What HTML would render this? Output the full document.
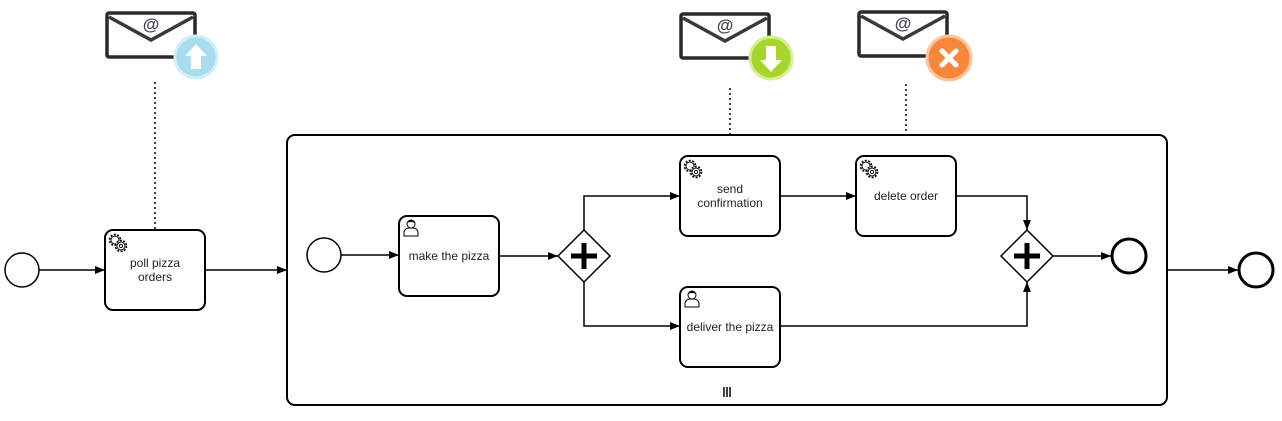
<!DOCTYPE html>
<html><head><meta charset="utf-8"><style>
html,body{margin:0;padding:0;background:#fff;}
svg{display:block;}
text{font-family:"Liberation Sans",Arial,sans-serif;font-size:12px;fill:#222;}
</style></head><body>
<svg width="1282" height="421" viewBox="0 0 1282 421" xmlns="http://www.w3.org/2000/svg">
<defs>
<marker id="a" viewBox="0 0 10 10" refX="10" refY="5" markerWidth="10" markerHeight="10" markerUnits="userSpaceOnUse" orient="auto">
<path d="M0,1 L10,5 L0,9 Z" fill="#000"/></marker>
<g id="gear">
<circle cx="7" cy="7" r="5.5" fill="none" stroke="#000" stroke-width="1.6" stroke-dasharray="2 1.5"/>
<circle cx="7" cy="7" r="4" fill="#fff" stroke="#000" stroke-width="0.9"/>
<circle cx="13" cy="13" r="5.5" fill="#fff" stroke="#000" stroke-width="1.6" stroke-dasharray="2 1.5"/>
<circle cx="13" cy="13" r="4" fill="#fff" stroke="#000" stroke-width="0.9"/>
<circle cx="13" cy="13" r="1.6" fill="none" stroke="#000" stroke-width="0.9"/>
</g>
<g id="user">
<circle cx="9" cy="6" r="4" fill="#fff" stroke="#000" stroke-width="1"/>
<path d="M5,5 Q9,0 13,5 Q9,3 5,5Z" fill="#000"/>
<path d="M2,18 L2,14 Q3,10 7,10 L11,10 Q15,10 16,14 L16,18 Z" fill="#fff" stroke="#000" stroke-width="1"/>
</g>
<g id="env">
<rect x="0" y="0" width="88" height="44" rx="2" fill="#fff" stroke="#2a2a2a" stroke-width="3.5"/>
<path d="M2,4 L44,27 L86,4" fill="none" stroke="#3a3a3a" stroke-width="3.5"/>
<text x="44" y="17" text-anchor="middle" style="font-size:17px;font-weight:bold;fill:#445">@</text>
</g>
</defs>

<use href="#env" x="107" y="13"/>
<circle cx="196" cy="57" r="21" fill="#a9dcef" stroke="#d2eef8" stroke-width="3"/>
<path d="M196,44 L207,56 L201,56 L201,69 L191,69 L191,56 L185,56 Z" fill="#fff"/>

<use href="#env" x="681" y="14"/>
<circle cx="771" cy="58" r="21" fill="#a6d52c" stroke="#d4ee92" stroke-width="3"/>
<path d="M771,72 L782,60 L776,60 L776,46 L766,46 L766,60 L760,60 Z" fill="#fff"/>

<use href="#env" x="859" y="12"/>
<circle cx="949" cy="58" r="22" fill="#f7873a" stroke="#fbc59c" stroke-width="3"/>
<path d="M942,51 L956,65 M956,51 L942,65" stroke="#fff" stroke-width="5" stroke-linecap="round"/>

<g stroke="#000" stroke-width="1.5" stroke-dasharray="2 3">
<line x1="155" y1="82" x2="155" y2="230"/>
<line x1="730" y1="88" x2="730" y2="156"/>
<line x1="906" y1="84" x2="906" y2="156"/>
</g>

<circle cx="22" cy="270" r="17" fill="#fff" stroke="#000" stroke-width="1.5"/>
<line x1="39" y1="270" x2="105" y2="270" stroke="#000" stroke-width="1.5" marker-end="url(#a)"/>
<rect x="105" y="230" width="100" height="80" rx="8" fill="#fff" stroke="#000" stroke-width="2"/>
<use href="#gear" x="108" y="233"/>
<text x="155" y="267" text-anchor="middle">poll pizza</text>
<text x="155" y="281" text-anchor="middle">orders</text>
<line x1="205" y1="270" x2="287" y2="270" stroke="#000" stroke-width="1.5" marker-end="url(#a)"/>

<rect x="287" y="135" width="880" height="270" rx="8" fill="#fff" stroke="#000" stroke-width="2"/>
<g stroke="#000" stroke-width="1.5"><line x1="724" y1="387" x2="724" y2="397"/><line x1="727" y1="387" x2="727" y2="397"/><line x1="730" y1="387" x2="730" y2="397"/></g>

<circle cx="324" cy="255" r="17" fill="#fff" stroke="#000" stroke-width="1.5"/>
<line x1="341" y1="255" x2="399" y2="255" stroke="#000" stroke-width="1.5" marker-end="url(#a)"/>
<rect x="399" y="216" width="100" height="80" rx="8" fill="#fff" stroke="#000" stroke-width="2"/>
<use href="#user" x="402" y="218"/>
<text x="449" y="260" text-anchor="middle">make the pizza</text>
<line x1="499" y1="256" x2="558" y2="256" stroke="#000" stroke-width="1.5" marker-end="url(#a)"/>

<polygon points="584,230 610,256 584,282 558,256" fill="#fff" stroke="#000" stroke-width="1.5"/>
<path d="M584,243 V269 M571,256 H597" stroke="#000" stroke-width="5"/>

<polyline points="584,230 584,196 680,196" fill="none" stroke="#000" stroke-width="1.5" marker-end="url(#a)"/>
<polyline points="584,282 584,326 680,326" fill="none" stroke="#000" stroke-width="1.5" marker-end="url(#a)"/>

<rect x="680" y="156" width="100" height="80" rx="8" fill="#fff" stroke="#000" stroke-width="2"/>
<use href="#gear" x="683" y="159"/>
<text x="730" y="193" text-anchor="middle">send</text>
<text x="730" y="207" text-anchor="middle">confirmation</text>
<line x1="780" y1="196" x2="856" y2="196" stroke="#000" stroke-width="1.5" marker-end="url(#a)"/>

<rect x="856" y="156" width="100" height="80" rx="8" fill="#fff" stroke="#000" stroke-width="2"/>
<use href="#gear" x="859" y="159"/>
<text x="906" y="200" text-anchor="middle">delete order</text>
<polyline points="956,196 1027,196 1027,230" fill="none" stroke="#000" stroke-width="1.5" marker-end="url(#a)"/>

<rect x="680" y="287" width="100" height="80" rx="8" fill="#fff" stroke="#000" stroke-width="2"/>
<use href="#user" x="683" y="289"/>
<text x="730" y="331" text-anchor="middle">deliver the pizza</text>
<polyline points="780,326 1027,326 1027,282" fill="none" stroke="#000" stroke-width="1.5" marker-end="url(#a)"/>

<polygon points="1027,230 1053,256 1027,282 1001,256" fill="#fff" stroke="#000" stroke-width="1.5"/>
<path d="M1027,243 V269 M1014,256 H1040" stroke="#000" stroke-width="5"/>
<line x1="1053" y1="256" x2="1111" y2="256" stroke="#000" stroke-width="1.5" marker-end="url(#a)"/>
<circle cx="1129" cy="256" r="17" fill="#fff" stroke="#000" stroke-width="3"/>

<line x1="1167" y1="270" x2="1238" y2="270" stroke="#000" stroke-width="1.5" marker-end="url(#a)"/>
<circle cx="1256" cy="270" r="17" fill="#fff" stroke="#000" stroke-width="3"/>
</svg>
</body></html>
